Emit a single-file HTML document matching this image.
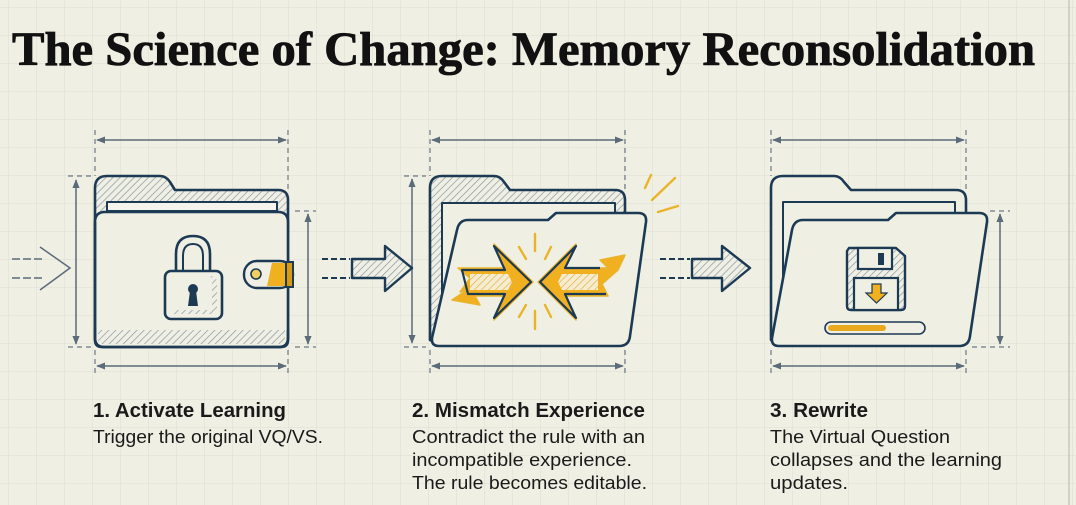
<!DOCTYPE html>
<html><head><meta charset="utf-8"><style>
html,body{margin:0;padding:0;background:#efefe4;}
svg{display:block;}
</style></head><body>
<svg width="1076" height="505" viewBox="0 0 1076 505" xmlns="http://www.w3.org/2000/svg">
<defs>
<pattern id="grid" width="28" height="28" patternUnits="userSpaceOnUse" x="8" y="7">
<path d="M0 0H28M0 0V28" stroke="#dcdccf" stroke-width="1" fill="none"/>
</pattern>
<pattern id="hatch" width="5" height="5" patternUnits="userSpaceOnUse" patternTransform="rotate(45)">
<rect width="5" height="5" fill="#efefe4"/>
<line x1="0" y1="0" x2="0" y2="5" stroke="#8a97a3" stroke-width="1.4"/>
</pattern>
<pattern id="yhatch" width="5" height="5" patternUnits="userSpaceOnUse" patternTransform="rotate(45)">
<rect width="5" height="5" fill="#f6ecd0"/>
<line x1="0" y1="0" x2="0" y2="5" stroke="#e2b448" stroke-width="1.4"/>
</pattern>
<marker id="ah" viewBox="0 0 10 10" refX="9" refY="5" markerWidth="9" markerHeight="9" orient="auto-start-reverse" markerUnits="userSpaceOnUse">
<path d="M0 1L10 5L0 9z" fill="#5b6b7a"/>
</marker>
</defs>
<rect width="1076" height="505" fill="#efefe4"/>
<rect width="1076" height="505" fill="url(#grid)"/>
<line x1="1069" y1="0" x2="1069" y2="505" stroke="#c9c9bd" stroke-width="1.5"/>

<text x="12" y="65" font-family="Liberation Serif, serif" font-weight="bold" font-size="48" fill="#111" stroke="#111" stroke-width="0.8" textLength="1023" lengthAdjust="spacingAndGlyphs">The Science of Change: Memory Reconsolidation</text>

<g stroke="#5b6b7a" stroke-width="1.5" fill="none">
<line x1="97" y1="140" x2="286" y2="140" marker-start="url(#ah)" marker-end="url(#ah)"/>
<line x1="97" y1="366" x2="286" y2="366" marker-start="url(#ah)" marker-end="url(#ah)"/>
<line x1="76" y1="180" x2="76" y2="344" marker-start="url(#ah)" marker-end="url(#ah)"/>
<line x1="308" y1="214" x2="308" y2="344" marker-start="url(#ah)" marker-end="url(#ah)"/>
<line x1="432" y1="140" x2="623" y2="140" marker-start="url(#ah)" marker-end="url(#ah)"/>
<line x1="432" y1="366" x2="623" y2="366" marker-start="url(#ah)" marker-end="url(#ah)"/>
<line x1="412" y1="179" x2="412" y2="343" marker-start="url(#ah)" marker-end="url(#ah)"/>
<line x1="773" y1="140" x2="964" y2="140" marker-start="url(#ah)" marker-end="url(#ah)"/>
<line x1="773" y1="366" x2="964" y2="366" marker-start="url(#ah)" marker-end="url(#ah)"/>
<line x1="1000" y1="214" x2="1000" y2="344" marker-start="url(#ah)" marker-end="url(#ah)"/>
</g>
<g stroke="#6b7a88" stroke-width="1.2" fill="none" stroke-dasharray="5 4">
<line x1="95" y1="130" x2="95" y2="176"/><line x1="288" y1="130" x2="288" y2="192"/>
<line x1="95" y1="350" x2="95" y2="375"/><line x1="288" y1="350" x2="288" y2="375"/>
<line x1="68" y1="176" x2="92" y2="176"/><line x1="68" y1="347" x2="92" y2="347"/>
<line x1="295" y1="211" x2="316" y2="211"/><line x1="295" y1="347" x2="316" y2="347"/>
<line x1="430" y1="130" x2="430" y2="176"/><line x1="625" y1="130" x2="625" y2="190"/>
<line x1="430" y1="350" x2="430" y2="375"/><line x1="625" y1="350" x2="625" y2="375"/>
<line x1="404" y1="176" x2="426" y2="176"/><line x1="404" y1="347" x2="426" y2="347"/>
<line x1="771" y1="130" x2="771" y2="176"/><line x1="966" y1="130" x2="966" y2="192"/>
<line x1="771" y1="350" x2="771" y2="375"/><line x1="966" y1="350" x2="966" y2="375"/>
<line x1="990" y1="211" x2="1010" y2="211"/><line x1="972" y1="347" x2="1010" y2="347"/>
<line x1="100" y1="275" x2="245" y2="275"/><line x1="193" y1="215" x2="193" y2="340"/>
<line x1="115" y1="215" x2="115" y2="265"/><line x1="110" y1="285" x2="110" y2="340"/>
<line x1="275" y1="245" x2="275" y2="340"/><line x1="264" y1="254" x2="286" y2="254"/>
</g>

<g stroke="#5b6b7a" stroke-width="1.5" fill="none">
<line x1="12" y1="259" x2="42" y2="259" stroke-dasharray="8 3"/><line x1="12" y1="278" x2="42" y2="278" stroke-dasharray="8 3"/>
<path d="M40 247L70 268L40 290"/>
</g>

<g stroke="#1d3a55" stroke-width="2.6" stroke-linejoin="round">
<path d="M95 188Q95 176 107 176H160Q166 176 170 182L175 190H278Q288 190 288 200V340Q288 347 281 347H102Q95 347 95 340Z" fill="url(#hatch)"/>
<path d="M95 222Q95 212 105 212H278Q288 212 288 222V338Q288 347 279 347H104Q95 347 95 338Z" fill="#efefe4"/>
<rect x="107" y="202" width="170" height="9" fill="#f4f4ec" stroke-width="2"/>
</g>
<rect x="98" y="330" width="187" height="14" fill="url(#hatch)"/>
<path d="M95 338V222" stroke="#1d3a55" stroke-width="2.6"/>
<path d="M95 330V338Q95 347 104 347H279Q288 347 288 338V330" stroke="#1d3a55" stroke-width="2.6" fill="none"/>
<g stroke="#1d3a55" stroke-width="2.6">
<path d="M176 271V254Q176 236 193 236Q210 236 210 254V271" fill="none"/>
<path d="M183 271V256Q183 244 193 244Q203 244 203 256V271" fill="none" stroke-width="2"/>
<rect x="165" y="271" width="57" height="48" rx="6" fill="#efefe4"/>
</g>
<path d="M210 276Q217 276 217 283V310Q217 314 212 314H172V310H208Q212 310 212 305V280Z" fill="url(#hatch)"/>
<circle cx="193" cy="289" r="5" fill="#1d3a55"/><path d="M190 291L188 306H198L196 291Z" fill="#1d3a55"/>
<rect x="244" y="261" width="49" height="27" rx="13" fill="#efefe4" stroke="#1d3a55" stroke-width="2.4"/>
<path d="M272 263H293V286H267Z" fill="#f0b020"/>
<rect x="286" y="262" width="7" height="25" fill="#d89a10" stroke="#1d3a55" stroke-width="2"/>
<circle cx="256" cy="274" r="5" fill="#f0d060" stroke="#1d3a55" stroke-width="1.6"/>

<g stroke="#1d3a55" stroke-width="2" fill="none">
<line x1="322" y1="259" x2="350" y2="259" stroke-dasharray="6 3"/><line x1="322" y1="278" x2="350" y2="278" stroke-dasharray="6 3"/>
<path d="M352 259H385V246L412 268L385 291V278H352Z" fill="url(#hatch)" stroke-width="2.4" stroke-linejoin="round"/>
<line x1="660" y1="259" x2="690" y2="259" stroke-dasharray="6 3"/><line x1="660" y1="278" x2="690" y2="278" stroke-dasharray="6 3"/>
<path d="M692 259H722V246L750 268L722 291V278H692Z" fill="url(#hatch)" stroke-width="2.4" stroke-linejoin="round"/>
</g>

<g stroke="#1d3a55" stroke-width="2.6" stroke-linejoin="round">
<path d="M430 340V188Q430 176 442 176H494Q500 176 504 182L510 190H615Q625 190 625 200V215L440 345Z" fill="url(#hatch)"/>
<path d="M442 345V203H615V225" fill="#efefe4" stroke-width="2"/>
<path d="M457 230Q459 220 468 220H548L556 213H638Q647 213 646 222L630 336Q629 346 619 346H439Q431 346 432 338Z" fill="#efefe4"/>
</g>
<g stroke="#eab42a" stroke-width="2.4" stroke-linecap="round">
<line x1="645" y1="188" x2="651" y2="175"/><line x1="652" y1="200" x2="675" y2="178"/><line x1="658" y1="212" x2="678" y2="206"/>
<line x1="535" y1="234" x2="535" y2="251"/><line x1="519" y1="247" x2="526" y2="259"/><line x1="551" y1="247" x2="545" y2="259"/>
<line x1="535" y1="311" x2="535" y2="329"/><line x1="519" y1="317" x2="526" y2="305"/><line x1="551" y1="317" x2="545" y2="305"/>
</g>
<path d="M452 300L470 288L460 292L470 278L458 268H505L494 244L533 282L494 320L505 296H475L480 305Z" fill="#f0b020" stroke="#eab42a" stroke-width="1.5" stroke-linejoin="round"/>
<path d="M462 270H505L494 246L531 282L494 318L505 294H468Z" fill="none" stroke="#1d3a55" stroke-width="2.2" stroke-linejoin="round"/>
<path d="M470 274H508L512 282L508 290H470Z" fill="url(#yhatch)"/>
<path d="M625 255L600 260L608 268L590 268H565L576 244L538 282L576 320L565 296H608L602 284L618 270Z" fill="#f0b020" stroke="#eab42a" stroke-width="1.5" stroke-linejoin="round"/>
<path d="M600 268H565L576 246L540 282L576 318L565 294H606" fill="none" stroke="#1d3a55" stroke-width="2.2" stroke-linejoin="round"/>
<path d="M598 274H562L558 282L562 290H598Z" fill="url(#yhatch)"/>

<g stroke="#1d3a55" stroke-width="2.6" stroke-linejoin="round" fill="#efefe4">
<path d="M771 340V188Q771 176 783 176H834Q840 176 844 182L851 190H956Q966 190 966 200V215L780 345Z"/>
<path d="M783 345V202H955V225" stroke-width="2"/>
<path d="M792 230Q794 220 803 220H888L896 213H979Q988 213 987 222L970 336Q969 346 959 346H779Q771 346 772 338Z"/>
</g>
<path d="M849 248H896L905 256V306Q905 310 901 310H851Q847 310 847 306V251Z" fill="url(#hatch)" stroke="#1d3a55" stroke-width="2.4" stroke-linejoin="round"/>
<rect x="858" y="248" width="34" height="21" fill="#efefe4" stroke="#1d3a55" stroke-width="2.2"/>
<rect x="878" y="253" width="6" height="12" fill="#1d3a55"/>
<rect x="854" y="278" width="44" height="32" fill="#efefe4" stroke="#1d3a55" stroke-width="2.2"/>
<path d="M872 284H881V293H887L876.5 303L866 293H872Z" fill="#f0b020" stroke="#1d3a55" stroke-width="1.2"/>
<rect x="825" y="322" width="100" height="12" rx="6" fill="#efefe4" stroke="#1d3a55" stroke-width="1.6"/>
<rect x="828" y="325" width="58" height="6" rx="3" fill="#e8a820"/>

<g font-family="Liberation Sans, sans-serif" fill="#1a1a1a">
<text x="93" y="417" font-size="20" font-weight="bold" textLength="193" lengthAdjust="spacingAndGlyphs">1. Activate Learning</text>
<text x="93" y="443" font-size="18.5" textLength="230" lengthAdjust="spacingAndGlyphs">Trigger the original VQ/VS.</text>
<text x="412" y="417" font-size="20" font-weight="bold" textLength="233" lengthAdjust="spacingAndGlyphs">2. Mismatch Experience</text>
<text x="412" y="443" font-size="18.5" textLength="233" lengthAdjust="spacingAndGlyphs">Contradict the rule with an</text>
<text x="412" y="466" font-size="18.5" textLength="220" lengthAdjust="spacingAndGlyphs">incompatible experience.</text>
<text x="412" y="489" font-size="18.5" textLength="235" lengthAdjust="spacingAndGlyphs">The rule becomes editable.</text>
<text x="770" y="417" font-size="20" font-weight="bold" textLength="98" lengthAdjust="spacingAndGlyphs">3. Rewrite</text>
<text x="770" y="443" font-size="18.5" textLength="180" lengthAdjust="spacingAndGlyphs">The Virtual Question</text>
<text x="770" y="466" font-size="18.5" textLength="232" lengthAdjust="spacingAndGlyphs">collapses and the learning</text>
<text x="770" y="489" font-size="18.5" textLength="78" lengthAdjust="spacingAndGlyphs">updates.</text>
</g>
</svg>
</body></html>
